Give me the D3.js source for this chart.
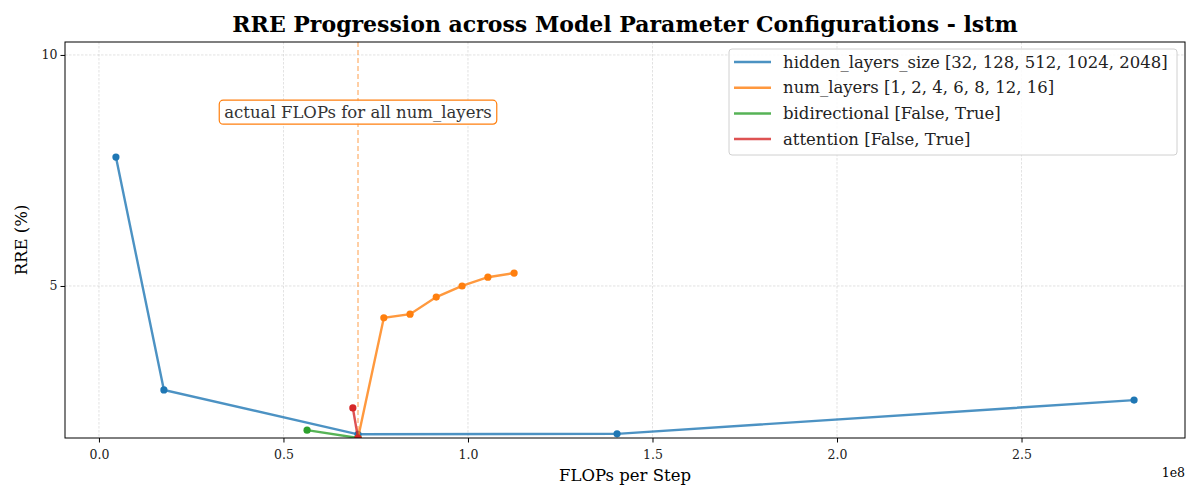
<!DOCTYPE html>
<html>
<head>
<meta charset="utf-8">
<script src="https://cdn.jsdelivr.net/npm/d3@7"></script>
<style>
  body { margin: 0; background: #fff; }
  svg { font-family: "DejaVu Serif", serif; }
</style>
</head>
<body>
<svg id="chart"></svg>
<script>
// FLOPs per step (x) and RRE % (y) for each sweep
var hiddenFlops = [0.046e8, 0.176e8, 0.702e8, 1.404e8, 2.805e8];
var hiddenRre = [7.79, 2.75, 1.79, 1.80, 2.53];
var layersFlops = [0.702e8, 0.772e8, 0.843e8, 0.914e8, 0.984e8, 1.054e8, 1.125e8];
var layersRre = [1.71, 4.31, 4.39, 4.76, 5.0, 5.19, 5.28];
var bidirFlops = [0.564e8, 0.702e8];
var bidirRre = [1.88, 1.71];
var attnFlops = [0.688e8, 0.702e8];
var attnRre = [2.36, 1.71];
var seriesNames = ["hidden_layers_size [32, 128, 512, 1024, 2048]", "num_layers [1, 2, 4, 6, 8, 12, 16]", "bidirectional [False, True]", "attention [False, True]"];
var seriesColors = ["#1f77b4", "#ff7f0e", "#2ca02c", "#d62728"];
var actualFlops = 0.702e8;
var xTicks = [0, 0.5e8, 1e8, 1.5e8, 2e8, 2.5e8];
var yTicks = [5, 10];

width = 1200;
height = 500;
margin = {left: 65, right: 15, top: 42, bottom: 62};
w = width - margin.left - margin.right;
h = height - margin.top - margin.bottom;

svg = d3.select("#chart").attr("width", width).attr("height", height);

x = d3.scaleLinear().domain([-0.092e8, 2.943e8]).range([0, w]);
y = d3.scaleLinear().domain([1.71, 10.28]).range([h, 0]);

chart = svg.append("g")
    .attr("transform", "translate(" + margin.left + "," + margin.top + ")");

svg.append("defs").append("clipPath").attr("id", "clip")
  .append("rect").attr("width", w).attr("height", h);

// grid
chart.append("g").selectAll("line").data(xTicks).join("line")
    .attr("x1", d => x(d)).attr("x2", d => x(d))
    .attr("y1", 0).attr("y2", h)
    .attr("stroke", "#b0b0b0").attr("stroke-width", 0.6)
    .attr("stroke-dasharray", "2.5,1.5").attr("opacity", 0.6);
chart.append("g").selectAll("line").data(yTicks).join("line")
    .attr("y1", d => y(d)).attr("y2", d => y(d))
    .attr("x1", 0).attr("x2", w)
    .attr("stroke", "#b0b0b0").attr("stroke-width", 0.6)
    .attr("stroke-dasharray", "2.5,1.5").attr("opacity", 0.6);

// axes
xAxis = chart.append("g")
    .attr("transform", "translate(0," + h + ")")
    .call(d3.axisBottom(x).tickValues(xTicks).tickFormat(d => (d / 1e8).toFixed(1)).tickSizeOuter(0).tickSize(4.5));
yAxis = chart.append("g")
    .call(d3.axisLeft(y).tickValues(yTicks).tickFormat(d3.format("d")).tickSizeOuter(0).tickSize(4.5));
[xAxis, yAxis].forEach(function(a) {
    a.selectAll("text").attr("font-family", "DejaVu Serif").attr("font-size", 12.5).attr("fill", "#222");
    a.select(".domain").remove();
});
xAxis.selectAll("text").attr("dy", "1.1em");

// dashed reference line
chart.append("line")
    .attr("x1", x(actualFlops)).attr("x2", x(actualFlops))
    .attr("y1", 0).attr("y2", h)
    .attr("stroke", seriesColors[1]).attr("stroke-width", 1)
    .attr("stroke-dasharray", "5,3").attr("opacity", 0.75);

// series
series = [
    {xs: hiddenFlops, ys: hiddenRre},
    {xs: layersFlops, ys: layersRre},
    {xs: bidirFlops, ys: bidirRre},
    {xs: attnFlops, ys: attnRre}
];

line = d3.line().x(d => x(d[0])).y(d => y(d[1]));

plot = chart.append("g").attr("clip-path", "url(#clip)");
series.forEach(function(s, i) {
    pts = s.xs.map((v, j) => [v, s.ys[j]]);
    plot.append("path")
        .datum(pts)
        .attr("d", line)
        .attr("fill", "none")
        .attr("stroke", seriesColors[i])
        .attr("stroke-width", 2.4)
        .attr("opacity", 0.8);
    plot.append("g").selectAll("circle").data(pts).join("circle")
        .attr("cx", d => x(d[0])).attr("cy", d => y(d[1]))
        .attr("r", 3.6)
        .attr("fill", seriesColors[i]);
});

// frame
chart.append("rect")
    .attr("width", w).attr("height", h)
    .attr("fill", "none").attr("stroke", "#000").attr("stroke-width", 1);

// annotation box
ann = chart.append("g").attr("transform", "translate(" + x(actualFlops) + "," + (y(9.0) + 17) + ")");
annText = ann.append("text")
    .attr("text-anchor", "middle")
    .attr("font-size", 16.5).attr("fill", "#333")
    .text("actual FLOPs for all num_layers");
bb = annText.node().getBBox();
ann.insert("rect", "text")
    .attr("x", bb.x - 5).attr("y", bb.y - 3)
    .attr("width", bb.width + 10).attr("height", bb.height + 5)
    .attr("rx", 4)
    .attr("fill", "#fff").attr("fill-opacity", 0.9)
    .attr("stroke", seriesColors[1]).attr("stroke-width", 1.2);

// legend
legend = chart.append("g").attr("transform", "translate(" + (w - 456) + ",7)");
legend.append("rect")
    .attr("width", 448).attr("height", 106).attr("rx", 3)
    .attr("fill", "#fff").attr("fill-opacity", 0.85)
    .attr("stroke", "#d0d0d0");
seriesNames.forEach(function(name, i) {
    row = legend.append("g").attr("transform", "translate(0," + (13 + i * 25.7) + ")");
    row.append("line")
        .attr("x1", 5).attr("x2", 42)
        .attr("stroke", seriesColors[i]).attr("stroke-width", 2.5).attr("opacity", 0.8);
    row.append("text")
        .attr("x", 54).attr("dy", "0.35em")
        .attr("font-size", 16.5).attr("fill", "#222")
        .text(name);
});

// labels
svg.append("text")
    .attr("x", 625).attr("y", 32)
    .attr("text-anchor", "middle")
    .attr("font-size", 22).attr("font-weight", "bold")
    .text("RRE Progression across Model Parameter Configurations - lstm");
svg.append("text")
    .attr("x", margin.left + w / 2).attr("y", 481)
    .attr("text-anchor", "middle")
    .attr("font-size", 16.5)
    .text("FLOPs per Step");
svg.append("text")
    .attr("transform", "translate(27," + (margin.top + h / 2) + ") rotate(-90)")
    .attr("text-anchor", "middle")
    .attr("font-size", 16.5)
    .text("RRE (%)");
svg.append("text")
    .attr("x", 1185).attr("y", 477)
    .attr("text-anchor", "end")
    .attr("font-size", 12.5)
    .text("1e8");
</script>
</body>
</html>
